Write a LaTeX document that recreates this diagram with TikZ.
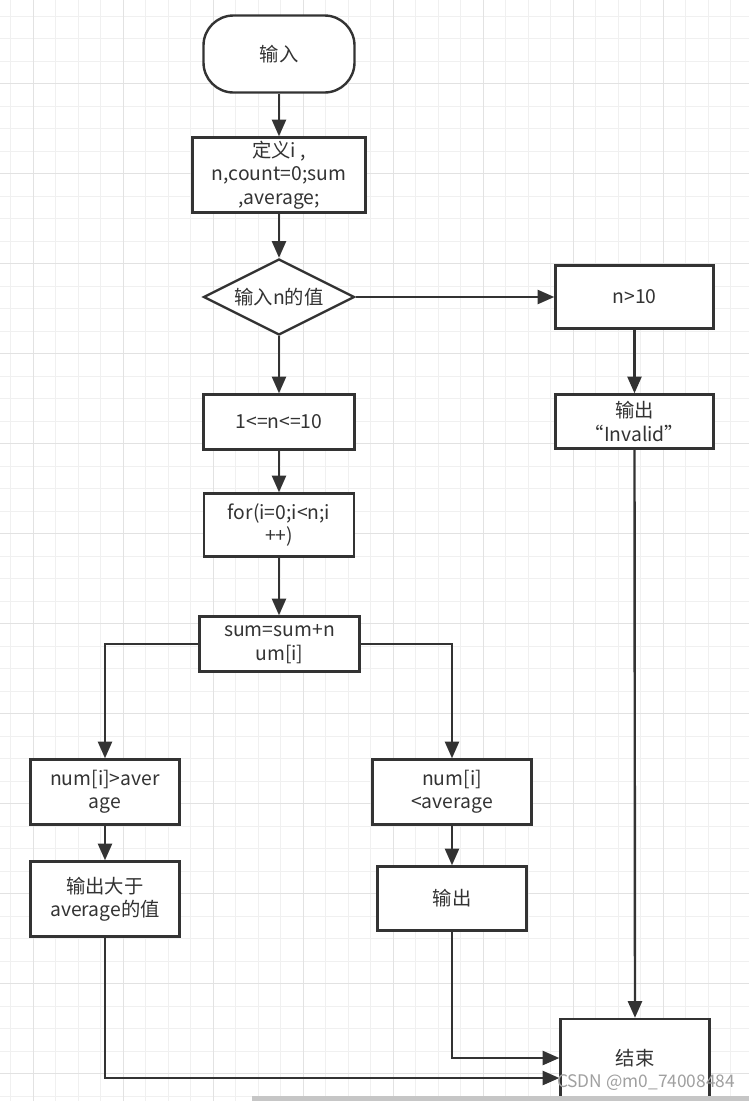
\documentclass[tikz,border=0pt]{standalone}
\usepackage{fontspec}
\setmainfont{Noto Sans CJK SC}
\usetikzlibrary{arrows.meta,shapes.geometric,calc}
\definecolor{ln}{HTML}{333333}
\definecolor{gmin}{HTML}{F0F0F0}
\definecolor{gmaj}{HTML}{E2E2E2}
\definecolor{wm}{HTML}{A0A0A0}
\newcommand{\fsz}{\fontsize{14.5pt}{17.5pt}\selectfont}
\begin{document}
\begin{tikzpicture}[x=0.75pt,y=-0.75pt,
  box/.style={draw=ln, line width=1.8pt, fill=white, rectangle, inner sep=0pt, align=center, text=ln, font=\fsz},
  term/.style={box, rounded corners=22.5pt},
  dec/.style={box, diamond, aspect=2},
  arr/.style={draw=ln, line width=1.8pt, -{Triangle[length=12.5pt,width=10.5pt]}},
  gridmin/.style={draw=gmin, line width=0.75pt},
  gridmaj/.style={draw=gmaj, line width=0.75pt}]
\useasboundingbox (0,0) rectangle (749,1101);
\fill[white] (0,0) rectangle (749,1101);
% grid
\foreach \k in {0,...,32} \draw[gridmin] ({10.5+22.5*\k},0) -- ({10.5+22.5*\k},1101);
\foreach \k in {0,...,48} \draw[gridmin] (0,{16+22.5*\k}) -- (749,{16+22.5*\k});
\foreach \k in {0,...,7} \draw[gridmaj] ({33+90*\k},0) -- ({33+90*\k},1101);
\foreach \k in {0,...,11} \draw[gridmaj] (0,{83.5+90*\k}) -- (749,{83.5+90*\k});

% nodes
\node[term, minimum width=113.25pt, minimum height=57.75pt] (start) at (279,54) {输入};
\node[box, minimum width=129.75pt, minimum height=56.25pt] (def) at (279,175) {定义i ,\\n,count=0;sum\\,average;};
\node[dec, minimum width=113.25pt, minimum height=57pt] (in) at (279,297) {输入n的值};
\node[box, minimum width=118.5pt, minimum height=47.25pt] (big) at (634.5,297) {n>10};
\node[box, minimum width=118.5pt, minimum height=40.5pt] (inv) at (634.5,421.5) {输出\\“Invalid”};
\node[box, minimum width=113.25pt, minimum height=41.25pt] (rng) at (279,422) {1<=n<=10};
\node[box, minimum width=112.5pt, minimum height=47.25pt] (loop) at (279,525) {for(i=0;i<n;i\\++)};
\node[box, minimum width=120pt, minimum height=41.25pt] (sum) at (279.5,644) {sum=sum+n\\um[i]};
\node[box, minimum width=111.75pt, minimum height=48.75pt] (gt) at (105,792) {num[i]>aver\\age};
\node[box, minimum width=111.75pt, minimum height=56.25pt] (gtout) at (105,899) {输出大于\\average的值};
\node[box, minimum width=119.25pt, minimum height=48.75pt] (lt) at (452,792) {num[i]\\<average};
\node[box, minimum width=111.75pt, minimum height=48pt] (ltout) at (452,898.5) {输出};
\node[box, minimum width=111.75pt, minimum height=58.5pt] (end) at (635,1058) {结束};
\coordinate (endin2) at ($(end.west)+(0,20)$);

% connectors
\draw[arr] (start) -- (def);
\draw[arr] (def) -- (in);
\draw[arr] (in.east) -- (big.west);
\draw[arr] (in.south) -- (rng.north);
\draw[arr] (big) -- (inv);
\draw[arr] (rng) -- (loop);
\draw[arr] (loop.south) -- (sum.north -| loop.south);
\draw[arr] (sum.west) -| (gt.north);
\draw[arr] (sum.east) -| (lt.north);
\draw[arr] (gt) -- (gtout);
\draw[arr] (lt) -- (ltout);
\draw[arr] (inv.south) -- (end.north);
\draw[arr] (ltout.south) |- (end.west);
\draw[arr] (gtout.south) |- (endin2);

% watermark and bottom bar
\node[text=wm, font=\fontsize{13pt}{15pt}\selectfont, inner sep=0pt] (wmark) at (646,1083) {CSDN @m0\_74008484};
\fill[gray!45] (252,1096) rectangle (749,1101);
\end{tikzpicture}
\end{document}
